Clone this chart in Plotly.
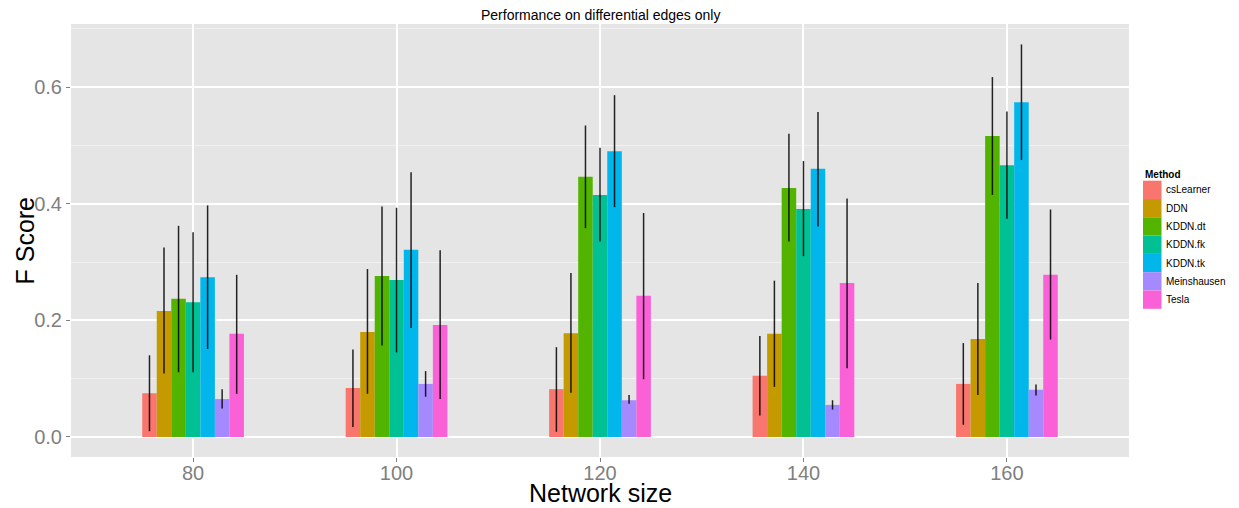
import plotly.graph_objects as go

# ---------------- data ----------------
network_sizes = [80, 100, 120, 140, 160]
methods = ["csLearner", "DDN", "KDDN.dt", "KDDN.fk", "KDDN.tk", "Meinshausen", "Tesla"]
colors = ["#F8766D", "#C49A00", "#53B400", "#00C094", "#00B6EB", "#A58AFF", "#FB61D7"]

mean_csLearner = [0.075, 0.084, 0.082, 0.105, 0.091]
mean_DDN = [0.216, 0.180, 0.178, 0.177, 0.168]
mean_KDDN_dt = [0.237, 0.276, 0.446, 0.427, 0.516]
mean_KDDN_fk = [0.231, 0.269, 0.415, 0.391, 0.466]
mean_KDDN_tk = [0.274, 0.321, 0.490, 0.460, 0.574]
mean_Meinshausen = [0.065, 0.091, 0.063, 0.055, 0.081]
mean_Tesla = [0.177, 0.192, 0.242, 0.264, 0.278]

upper_csLearner = [0.140, 0.150, 0.154, 0.173, 0.161]
upper_DDN = [0.325, 0.288, 0.281, 0.268, 0.264]
upper_KDDN_dt = [0.362, 0.395, 0.534, 0.520, 0.617]
upper_KDDN_fk = [0.351, 0.393, 0.496, 0.473, 0.558]
upper_KDDN_tk = [0.397, 0.454, 0.586, 0.557, 0.673]
upper_Meinshausen = [0.082, 0.113, 0.072, 0.063, 0.090]
upper_Tesla = [0.278, 0.320, 0.384, 0.409, 0.390]

lower_csLearner = [0.010, 0.017, 0.009, 0.037, 0.021]
lower_DDN = [0.109, 0.074, 0.076, 0.086, 0.072]
lower_KDDN_dt = [0.111, 0.157, 0.358, 0.335, 0.415]
lower_KDDN_fk = [0.111, 0.145, 0.335, 0.310, 0.374]
lower_KDDN_tk = [0.151, 0.187, 0.394, 0.361, 0.475]
lower_Meinshausen = [0.049, 0.069, 0.057, 0.047, 0.071]
lower_Tesla = [0.074, 0.065, 0.099, 0.118, 0.167]

means = [mean_csLearner, mean_DDN, mean_KDDN_dt, mean_KDDN_fk, mean_KDDN_tk, mean_Meinshausen, mean_Tesla]
uppers = [upper_csLearner, upper_DDN, upper_KDDN_dt, upper_KDDN_fk, upper_KDDN_tk, upper_Meinshausen, upper_Tesla]
lowers = [lower_csLearner, lower_DDN, lower_KDDN_dt, lower_KDDN_fk, lower_KDDN_tk, lower_Meinshausen, lower_Tesla]

y_ticks = [0.0, 0.2, 0.4, 0.6]
x_ticks = [80, 100, 120, 140, 160]

# ---------------- figure ----------------
FONT = "Liberation Sans, Arial, Helvetica, sans-serif"
W, H = 1239, 508
L, R, T, B = 71, 110, 24, 51
PW, PH = W - L - R, H - T - B

fig = go.Figure()
for name, col, m, up, lo in zip(methods, colors, means, uppers, lowers):
    fig.add_trace(go.Bar(
        x=network_sizes, y=m, name=name,
        marker=dict(color=col, line=dict(width=0)),
        error_y=dict(type="data", symmetric=False,
                     array=[u - v for u, v in zip(up, m)],
                     arrayminus=[v - l for v, l in zip(m, lo)],
                     color="rgba(0,0,0,0.85)", thickness=1.5, width=0),
        showlegend=False,
    ))

# custom ggplot-like legend
def px_x(px):
    return (px - L) / PW

def px_y(py):
    return (H - B - py) / PH

annotations = [
    dict(text="Performance on differential edges only", xref="paper", yref="paper",
         x=0.5, y=px_y(15), xanchor="center", yanchor="middle", showarrow=False,
         font=dict(family=FONT, size=14, color="black")),
    dict(text="<b>Method</b>", xref="paper", yref="paper", x=px_x(1143), y=px_y(174),
         xanchor="left", yanchor="middle", showarrow=False,
         font=dict(family=FONT, size=10, color="black")),
    dict(text="Network size", xref="paper", yref="paper", x=0.5, y=px_y(493),
         xanchor="center", yanchor="middle", showarrow=False,
         font=dict(family=FONT, size=25, color="black")),
    dict(text="F Score", xref="paper", yref="paper", x=px_x(24), y=0.5, textangle=-90,
         xanchor="center", yanchor="middle", showarrow=False,
         font=dict(family=FONT, size=25, color="black")),
]
shapes = []
sw_top, sw_h = 180.7, 18.3
for i, (name, col) in enumerate(zip(methods, colors)):
    y0 = sw_top + i * sw_h
    shapes.append(dict(type="rect", xref="paper", yref="paper",
                       x0=px_x(1143), x1=px_x(1161.5), y0=px_y(y0), y1=px_y(y0 + sw_h),
                       fillcolor=col, line=dict(width=0), layer="above"))
    annotations.append(dict(text=name, xref="paper", yref="paper",
                            x=px_x(1164), y=px_y(y0 + sw_h / 2),
                            xanchor="left", yanchor="middle", showarrow=False,
                            font=dict(family=FONT, size=10, color="black")))

fig.update_layout(
    width=W, height=H, autosize=False,
    margin=dict(l=L, r=R, t=T, b=B, pad=0),
    paper_bgcolor="white", plot_bgcolor="#E5E5E5",
    barmode="group", bargap=0.5, bargroupgap=0,
    font=dict(family=FONT),
    annotations=annotations, shapes=shapes,
    showlegend=False,
)
fig.update_xaxes(
    range=[68, 172], tickvals=x_ticks, ticktext=[str(v) for v in x_ticks],
    showgrid=True, gridcolor="white", gridwidth=1.6, zeroline=False,
    ticks="outside", ticklen=4, tickwidth=1, tickcolor="#7F7F7F",
    tickfont=dict(family=FONT, size=20, color="#7F7F7F"),
    ticklabelstandoff=-6,
    automargin=False, showline=False,
)
fig.update_yaxes(
    range=[-0.0343, 0.708], tickvals=y_ticks, ticktext=[f"{v:.1f}" for v in y_ticks],
    showgrid=True, gridcolor="white", gridwidth=1.6, zeroline=False,
    minor=dict(dtick=0.1, tick0=0, showgrid=True, gridcolor="#F2F2F2", gridwidth=1, ticks=""),
    ticks="outside", ticklen=4, tickwidth=1, tickcolor="#7F7F7F",
    tickfont=dict(family=FONT, size=20, color="#7F7F7F"),
    automargin=False, showline=False,
)

fig.write_html("out.html")
